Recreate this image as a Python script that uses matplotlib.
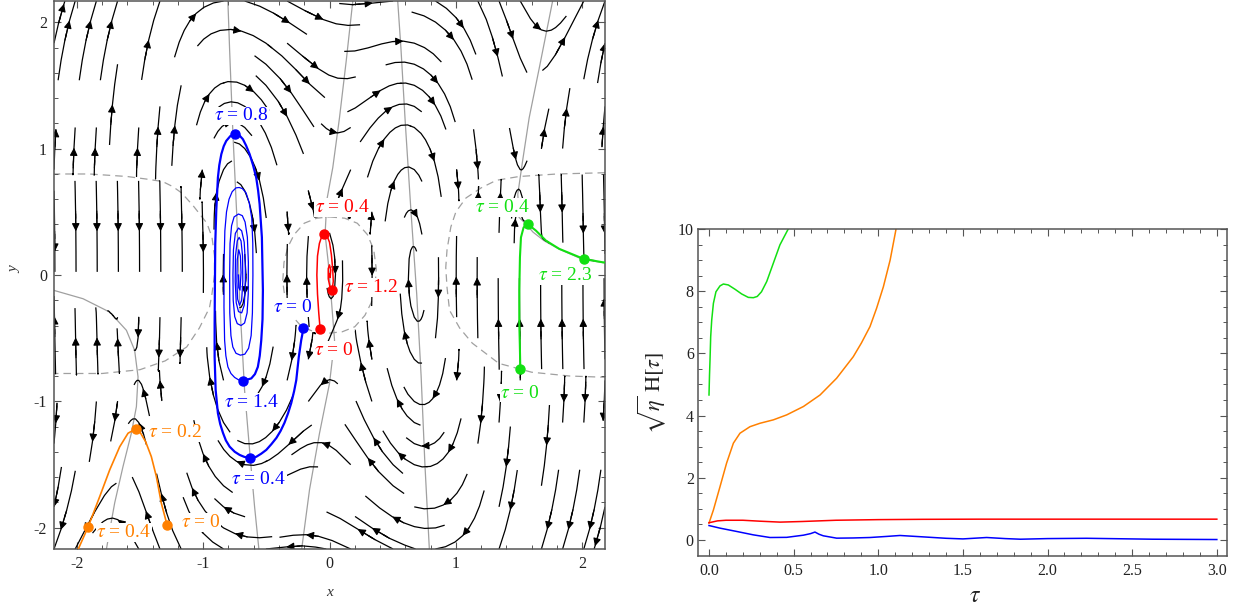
import numpy as np
import matplotlib
matplotlib.use("Agg")
import matplotlib.pyplot as plt
from matplotlib.patches import FancyArrowPatch

plt.rcParams['font.family'] = ['Liberation Serif', 'DejaVu Serif']
plt.rcParams['mathtext.fontset'] = 'stix'
plt.rcParams['axes.unicode_minus'] = False

# ---------------- left panel: curves read off the phase portrait ----------------
# solid gray curves (x as a function of y)
g1_y = [-2.169, -1.833, -1.45, -0.912, -0.2, 0.456, 1.114, 1.772, 2.167]
g1_x = [-0.559, -0.593, -0.627, -0.672, -0.711, -0.733, -0.764, -0.79, -0.804]
g2_y = [-2.169, -1.70, -1.253, -0.859, -0.517, -0.2, 0.1, 0.325, 0.6, 0.851, 1.245, 1.693, 2.167]
g2_x = [-0.22, -0.158, -0.079, 0.0, 0.04, 0.015, -0.01, -0.035, -0.02, 0.026, 0.079, 0.132, 0.184]
g3_y = [-2.169, -1.5, -0.8, -0.15, 0.5, 1.2, 1.8, 2.167]
g3_x = [0.79, 0.755, 0.725, 0.69, 0.645, 0.6, 0.565, 0.54]
# right corner curve: vertical part, then the part running right
g4v_y = [0.456, 0.64, 0.904, 1.245, 1.64, 2.167]
g4v_x = [1.50, 1.49, 1.528, 1.58, 1.66, 1.765]
g4h_x = [1.50, 1.555, 1.61, 1.70, 1.818, 2.0, 2.18]
g4h_y = [0.456, 0.404, 0.34, 0.27, 0.205, 0.125, 0.095]
# left corner curve
g5v_y = [-2.169, -1.806, -1.517, -1.253, -1.043, -0.807, -0.596]
g5v_x = [-1.765, -1.70, -1.634, -1.568, -1.528, -1.515, -1.542]
g5h_x = [-2.18, -1.95, -1.739, -1.607, -1.542]
g5h_y = [-0.122, -0.188, -0.294, -0.438, -0.596]

# dashed gray curves
d1_x = [-2.19, -1.9, -1.6, -1.45, -1.32, -1.24, -1.17, -1.08, -0.97, -0.93, -0.91, -0.91,
        -0.93, -0.95, -1.03, -1.13, -1.3, -1.5, -1.8, -2.19]
d1_y = [0.8, 0.8, 0.78, 0.76, 0.74, 0.70, 0.65, 0.55, 0.41, 0.3, 0.15, 0.0,
        -0.15, -0.26, -0.42, -0.57, -0.68, -0.75, -0.78, -0.78]
d2_x = [0.0, 0.12, 0.22, 0.30, 0.35, 0.37, 0.36, 0.33, 0.28, 0.2, 0.1, 0.0, -0.12, -0.22,
        -0.3, -0.35, -0.37, -0.36, -0.33, -0.28, -0.2, -0.1, 0.0]
d2_y = [0.46, 0.45, 0.41, 0.32, 0.2, 0.05, -0.1, -0.22, -0.32, -0.41, -0.45, -0.46, -0.45,
        -0.41, -0.32, -0.2, -0.05, 0.1, 0.22, 0.32, 0.41, 0.45, 0.46]
d3_x = [2.18, 1.8, 1.5, 1.32, 1.2, 1.08, 1.0, 0.96, 0.93, 0.92, 0.93, 0.95, 1.03, 1.13,
        1.34, 1.6, 1.9, 2.18]
d3_y = [0.81, 0.8, 0.78, 0.75, 0.69, 0.61, 0.5, 0.38, 0.2, 0.06, -0.1, -0.28, -0.42,
        -0.54, -0.7, -0.77, -0.8, -0.81]

# trajectories (x, y)
blue_main = [(-0.21, -0.417), (-0.215, -0.47), (-0.224, -0.517), (-0.233, -0.58), (-0.243, -0.649),
             (-0.253, -0.74), (-0.263, -0.833), (-0.28, -0.92), (-0.303, -1.015), (-0.328, -1.095),
             (-0.356, -1.17), (-0.387, -1.235), (-0.42, -1.29), (-0.46, -1.34), (-0.5, -1.385),
             (-0.54, -1.415), (-0.58, -1.44), (-0.632, -1.45), (-0.675, -1.44), (-0.711, -1.425),
             (-0.75, -1.4), (-0.79, -1.36), (-0.82, -1.31), (-0.843, -1.25), (-0.865, -1.18),
             (-0.883, -1.095), (-0.901, -0.91), (-0.909, -0.649), (-0.909, -0.385), (-0.907, -0.12),
             (-0.904, 0.246), (-0.896, 0.51), (-0.883, 0.772), (-0.872, 0.87), (-0.856, 0.957),
             (-0.837, 1.02), (-0.817, 1.062), (-0.785, 1.1), (-0.746, 1.12), (-0.712, 1.105),
             (-0.685, 1.075), (-0.66, 1.025), (-0.632, 0.957), (-0.605, 0.87), (-0.58, 0.772),
             (-0.565, 0.67), (-0.553, 0.562), (-0.535, 0.298), (-0.527, -0.122), (-0.53, -0.35),
             (-0.54, -0.517), (-0.552, -0.64), (-0.567, -0.728), (-0.59, -0.785), (-0.619, -0.819),
             (-0.685, -0.838)]
blue_inner = [(-0.685, -0.838), (-0.72, -0.83), (-0.751, -0.811), (-0.78, -0.78), (-0.804, -0.728),
              (-0.82, -0.64), (-0.83, -0.517), (-0.835, -0.254), (-0.834, 0.1), (-0.828, 0.35),
              (-0.815, 0.5), (-0.795, 0.6), (-0.77, 0.66), (-0.74, 0.69), (-0.715, 0.693),
              (-0.69, 0.685), (-0.66, 0.65), (-0.635, 0.57), (-0.615, 0.45), (-0.607, 0.25),
              (-0.606, 0.0), (-0.61, -0.3), (-0.62, -0.48), (-0.64, -0.58), (-0.67, -0.627),
              (-0.705, -0.635), (-0.74, -0.62), (-0.765, -0.57), (-0.78, -0.48), (-0.789, -0.3),
              (-0.79, 0.0), (-0.787, 0.25), (-0.775, 0.39), (-0.755, 0.46), (-0.72, 0.483),
              (-0.69, 0.47), (-0.668, 0.42), (-0.65, 0.3), (-0.642, 0.1), (-0.643, -0.15),
              (-0.652, -0.3), (-0.672, -0.38), (-0.7, -0.4), (-0.73, -0.385), (-0.75, -0.33),
              (-0.762, -0.2), (-0.764, 0.0), (-0.76, 0.2), (-0.745, 0.33), (-0.72, 0.372),
              (-0.695, 0.35), (-0.675, 0.26), (-0.666, 0.1), (-0.666, -0.1), (-0.675, -0.24),
              (-0.695, -0.3), (-0.72, -0.29), (-0.738, -0.22), (-0.746, -0.05), (-0.744, 0.15),
              (-0.73, 0.27), (-0.715, 0.298), (-0.7, 0.27), (-0.688, 0.15), (-0.686, -0.05),
              (-0.695, -0.2), (-0.712, -0.24), (-0.727, -0.19), (-0.733, -0.05), (-0.73, 0.12),
              (-0.718, 0.2), (-0.705, 0.15), (-0.7, 0.02), (-0.708, -0.12), (-0.718, -0.1),
              (-0.72, 0.0)]
red_path = [(-0.074, -0.43), (-0.085, -0.3), (-0.095, -0.15), (-0.1, 0.0), (-0.095, 0.15),
            (-0.08, 0.25), (-0.06, 0.31), (-0.04, 0.325), (-0.02, 0.31), (0.0, 0.26),
            (0.015, 0.16), (0.025, 0.05), (0.03, -0.05), (0.021, -0.115), (0.005, -0.1),
            (-0.01, -0.03), (-0.01, 0.05), (0.0, 0.08), (0.01, 0.04), (0.005, -0.02), (-0.003, 0.01)]
green_path = [(1.51, -0.746), (1.506, -0.55), (1.502, -0.385), (1.502, -0.122), (1.507, 0.141),
              (1.515, 0.298), (1.536, 0.377), (1.568, 0.404), (1.634, 0.351), (1.713, 0.272),
              (1.818, 0.207), (2.01, 0.128), (2.16, 0.101), (2.18, 0.099)]
orange_path = [(-1.286, -1.977), (-1.331, -1.806), (-1.37, -1.596), (-1.41, -1.438), (-1.455, -1.32),
               (-1.502, -1.24), (-1.534, -1.219), (-1.594, -1.253), (-1.66, -1.36), (-1.739, -1.543),
               (-1.818, -1.754), (-1.91, -1.995), (-1.99, -2.175)]

# marked points and their labels: (x, y, label, label_x, label_y)
blue_marks = [(-0.21, -0.417, '0', -0.29, -0.256), (-0.632, -1.45, '0.4', -0.561, -1.622),
              (-0.746, 1.12, '0.8', -0.70, 1.26), (-0.685, -0.838, '1.4', -0.617, -1.006)]
red_marks = [(-0.074, -0.43, '0', 0.032, -0.596), (-0.04, 0.325, '0.4', 0.103, 0.533),
             (0.021, -0.115, '1.2', 0.332, -0.099)]
green_marks = [(1.51, -0.746, '0', 1.51, -0.935), (1.568, 0.404, '0.4', 1.368, 0.533),
               (2.01, 0.128, '2.3', 1.866, -0.004)]
orange_marks = [(-1.286, -1.977, '0', -1.02, -1.961), (-1.534, -1.219, '0.2', -1.225, -1.251),
                (-1.91, -1.995, '0.4', -1.628, -2.04)]

# ---------------- right panel: sqrt(eta) H(tau) ----------------
green_t = [0.0, 0.003, 0.006, 0.01, 0.016, 0.026, 0.041, 0.065, 0.085, 0.114, 0.154, 0.193,
           0.232, 0.262, 0.285, 0.31, 0.341, 0.38, 0.419, 0.468]
green_h = [4.66, 5.3, 5.79, 6.54, 7.07, 7.61, 7.98, 8.17, 8.23, 8.2, 8.06, 7.91,
           7.8, 7.79, 7.83, 7.98, 8.31, 8.9, 9.49, 10.0]
orange_t = [0.0, 0.026, 0.065, 0.104, 0.144, 0.183, 0.242, 0.301, 0.38, 0.459, 0.558, 0.656,
            0.754, 0.852, 0.9, 0.951, 0.99, 1.03, 1.07, 1.105]
orange_h = [0.54, 0.96, 1.71, 2.47, 3.11, 3.43, 3.64, 3.75, 3.86, 4.02, 4.29, 4.66,
            5.2, 5.89, 6.33, 6.86, 7.45, 8.14, 9.0, 10.0]
red_t = [0.0, 0.05, 0.1, 0.2, 0.3, 0.42, 0.55, 0.75, 1.0, 1.26, 1.6, 2.0, 2.5, 3.0]
red_h = [0.55, 0.61, 0.63, 0.63, 0.6, 0.57, 0.59, 0.63, 0.65, 0.66, 0.665, 0.665, 0.665, 0.665]
blue_t = [0.0, 0.065, 0.163, 0.262, 0.36, 0.459, 0.558, 0.6, 0.626, 0.65, 0.675, 0.754, 0.85,
          0.951, 1.05, 1.128, 1.25, 1.4, 1.5, 1.64, 1.75, 1.84, 2.0, 2.23, 2.62, 3.0]
blue_h = [0.46, 0.376, 0.27, 0.16, 0.075, 0.08, 0.15, 0.2, 0.25, 0.18, 0.13, 0.054, 0.06,
          0.075, 0.11, 0.14, 0.1, 0.05, 0.03, 0.075, 0.04, 0.02, 0.04, 0.05, 0.02, 0.01]

BLUE, RED, GREEN, ORANGE = '#0000ff', '#ff0000', '#12e012', '#ff8000'
FRAME = '#555555'


def field(X, Y):
    # vertical velocity vanishes on the solid and dashed gray curves
    T = lambda s: np.tanh(s / 0.35)
    p1 = X - np.interp(Y, g1_y, g1_x)
    p2 = X - np.interp(Y, g2_y, g2_x)
    p3 = X - np.interp(Y, g3_y, g3_x)
    p4 = -np.minimum(X - np.interp(Y, g4v_y, g4v_x), Y - np.interp(X, g4h_x, g4h_y))
    p5 = -np.minimum(np.interp(Y, g5v_y, g5v_x) - X, np.interp(X, g5h_x, g5h_y) - Y)
    q1 = (np.abs(X + 2.2) / 1.3) ** 4 + (np.abs(Y) / 0.79) ** 4 - 1
    q2 = (np.abs(X) / 0.37) ** 3 + (np.abs(Y) / 0.46) ** 3 - 1
    q3 = (np.abs(2.2 - X) / 1.28) ** 4 + (np.abs(Y) / 0.8) ** 4 - 1
    tq = np.tanh(q1 / 0.25) * np.tanh(q2 / 0.25) * np.tanh(q3 / 0.25)
    V = -T(p1) * T(p2) * T(p3) * T(p4) * T(p5) * tq
    w = 0.22 + 0.78 * np.exp(-(X / 1.05) ** 6)
    U = w * (0.1 * Y + 0.12 * Y ** 3) * tq ** 2
    return U, V


def style(ax, fs):
    for s in ax.spines.values():
        s.set_color(FRAME)
        s.set_linewidth(1.1)
    ax.tick_params(which='both', direction='in', top=True, right=True, color=FRAME,
                   labelsize=fs, labelcolor='#222222')
    ax.tick_params(which='major', length=5, width=0.8)
    ax.tick_params(which='minor', length=2.8, width=0.7)


fig = plt.figure(figsize=(12.42, 6.09), dpi=100)

# ---------------- left panel ----------------
ax1 = fig.add_axes([54 / 1242, 1 - 549 / 609, 551 / 1242, 548 / 609])
xg = np.linspace(-2.18, 2.18, 221)
yg = np.linspace(-2.17, 2.17, 221)
XX, YY = np.meshgrid(xg, yg)
UU, VV = field(XX, YY)

sp = ax1.streamplot(xg, yg, UU, VV, density=0.9, color='black', linewidth=0.9, arrowsize=0.01,
                    arrowstyle='-', maxlength=0.3, minlength=0.06, zorder=2)

# arrow heads every ~0.42 units along each streamline
for seg in sp.lines.get_segments():
    if len(seg) < 3:
        continue
    s = np.concatenate([[0], np.cumsum(np.hypot(np.diff(seg[:, 0]), np.diff(seg[:, 1])))])
    L = s[-1]
    if L < 0.15:
        continue
    n = max(1, int(L / 0.42))
    for k in range(n):
        i = int(np.clip(np.searchsorted(s, (k + 0.5) * L / n), 1, len(seg) - 1))
        ax1.add_patch(FancyArrowPatch(tuple(seg[i - 1]), tuple(seg[i]), arrowstyle='-|>',
                                      mutation_scale=11.5, color='black', lw=0.8,
                                      shrinkA=0, shrinkB=0, zorder=2))

for gx, gy in [(g1_x, g1_y), (g2_x, g2_y), (g3_x, g3_y), (g5v_x, g5v_y)]:
    ax1.plot(gx, gy, color='#a0a0a0', lw=0.9, zorder=1.5)
ax1.plot(g4v_x[::-1] + g4h_x[1:], g4v_y[::-1] + g4h_y[1:], color='#a0a0a0', lw=0.9, zorder=1.5)
ax1.plot(g5h_x, g5h_y, color='#a0a0a0', lw=0.9, zorder=1.5)
for dx, dy in [(d1_x, d1_y), (d2_x, d2_y), (d3_x, d3_y)]:
    ax1.plot(dx, dy, color='#a0a0a0', lw=0.9, dashes=(6, 4), zorder=1.5)

bm = np.array(blue_main)
bi = np.array(blue_inner)
ax1.plot(bi[:, 0], bi[:, 1], color=BLUE, lw=0.9, zorder=3)
ax1.plot(bm[:, 0], bm[:, 1], color=BLUE, lw=1.6, zorder=3)
for path, col, lw in [(red_path, RED, 1.1), (green_path, GREEN, 1.5), (orange_path, ORANGE, 1.2)]:
    p = np.array(path)
    ax1.plot(p[:, 0], p[:, 1], color=col, lw=lw, zorder=3)

for marks, col in [(blue_marks, BLUE), (red_marks, RED), (green_marks, GREEN), (orange_marks, ORANGE)]:
    for mx, my, lab, lx, ly in marks:
        ax1.plot(mx, my, 'o', color=col, ms=6.5, zorder=4)
        ax1.text(lx, ly, r'$\tau$ = ' + lab, color=col, fontsize=14, ha='center', va='center',
                 zorder=5, bbox=dict(facecolor='white', edgecolor='none', pad=0.5))

ax1.set_xlim(-2.18, 2.18)
ax1.set_ylim(-2.17, 2.17)
ax1.set_xticks([-2, -1, 0, 1, 2])
ax1.set_yticks([-2, -1, 0, 1, 2])
ax1.set_xticks(np.arange(-2.0, 2.01, 0.2), minor=True)
ax1.set_yticks(np.arange(-2.0, 2.01, 0.2), minor=True)
style(ax1, 11.5)
ax1.tick_params(which='both', pad=5)
fig.text(330 / 1242, 1 - 593 / 609, 'x', fontsize=11, style='italic', color='#333333',
         ha='center', va='center')
fig.text(15 / 1242, 1 - 270 / 609, 'y', fontsize=11, style='italic', color='#333333',
         ha='center', va='center', rotation=90)

# ---------------- right panel ----------------
ax2 = fig.add_axes([698 / 1242, 1 - 556 / 609, 529 / 1242, 327 / 609])
ax2.plot(green_t, green_h, color=GREEN, lw=1.1)
ax2.plot(orange_t, orange_h, color=ORANGE, lw=1.1)
ax2.plot(red_t, red_h, color=RED, lw=1.1)
ax2.plot(blue_t, blue_h, color=BLUE, lw=1.1)
ax2.set_xlim(-0.065, 3.06)
ax2.set_ylim(-0.52, 10)
ax2.set_xticks(np.arange(0, 3.01, 0.5))
ax2.set_xticklabels(['0.0', '0.5', '1.0', '1.5', '2.0', '2.5', '3.0'])
ax2.set_xticks(np.arange(0, 3.01, 0.1), minor=True)
ax2.set_yticks(np.arange(0, 10.1, 2))
ax2.set_yticks(np.arange(0, 10.1, 0.5), minor=True)
style(ax2, 11.5)
ax2.tick_params(axis='x', which='both', pad=5)
ax2.tick_params(axis='y', which='both', pad=3)
fig.text(975 / 1242, 1 - 597 / 609, r'$\tau$', fontsize=17, color='#222222', ha='center', va='center')
fig.text(652 / 1242, 1 - 393 / 609, r'$\sqrt{\eta}\ \mathrm{H}[\tau]$', fontsize=16, color='#222222',
         ha='center', va='center', rotation=90)

fig.savefig('out.png', dpi=100)
